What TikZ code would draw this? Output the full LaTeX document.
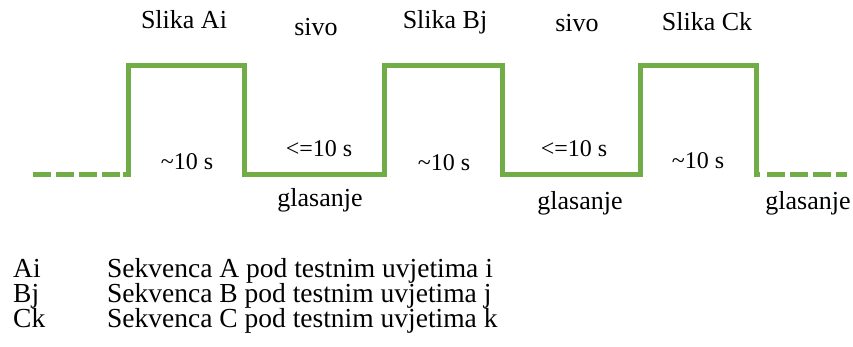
\documentclass[tikz,border=0pt]{standalone}
\usepackage{fontspec}
\setmainfont{Liberation Serif}
\usepackage{xcolor}
\definecolor{signalgreen}{HTML}{70AD47}
\usetikzlibrary{positioning}

\begin{document}
\begin{tikzpicture}[x=1pt,y=-1pt,
    signal/.style={signalgreen,line width=5pt,line join=miter},
    lbl/.style={inner sep=0pt,anchor=base,font=\fontsize{26}{30}\selectfont},
    small/.style={inner sep=0pt,anchor=base,font=\fontsize{24}{28}\selectfont},
    legend/.style={inner sep=0pt,anchor=base west,font=\fontsize{27.5}{31}\selectfont}]
    \useasboundingbox (0,0) rectangle (853,347);

    % square wave
    \draw[signal] (123,175) -- (128,175) -- (128,66) -- (244,66) -- (244,175)
        -- (384,175) -- (384,66) -- (502,66) -- (502,175)
        -- (640,175) -- (640,66) -- (756,66) -- (756,175) -- (760,175);
    \draw[signal,dash pattern=on 18pt off 5pt] (33,175) -- (123,175);
    \draw[signal,dash pattern=on 18pt off 5pt] (767,175) -- (847,175);

    \node[lbl] (slikaA) at (184,29) {Slika Ai};
    \node[lbl] (slikaB) at (445,29) {Slika Bj};
    \node[lbl] (slikaC) at (707,31) {Slika Ck};
    \node[lbl] (sivoA) at (316,36) {sivo};
    \node[lbl] (sivoB) at (577,32) {sivo};

    \node[small] (tA) at (187,170) {\textasciitilde 10 s};
    \node[small] (tB) at (444,171) {\textasciitilde 10 s};
    \node[small] (tC) at (698,169) {\textasciitilde 10 s};
    \node[small] (wA) at (319,157) {<=10 s};
    \node[small] (wB) at (574,157) {<=10 s};

    \node[lbl] (gA) at (320,207) {glasanje};
    \node[lbl] (gB) at (580,210) {glasanje};
    \node[lbl] (gC) at (808,210) {glasanje};

    % legend
    \node[legend] (kA) at (13,277) {Ai};
    \node[legend] (kB) at (13,302) {Bj};
    \node[legend] (kC) at (13,327) {Ck};
    \node[legend] (dA) at (107,277) {Sekvenca A pod testnim uvjetima i};
    \node[legend] (dB) at (107,302) {Sekvenca B pod testnim uvjetima j};
    \node[legend] (dC) at (107,327) {Sekvenca C pod testnim uvjetima k};
\end{tikzpicture}
\end{document}
